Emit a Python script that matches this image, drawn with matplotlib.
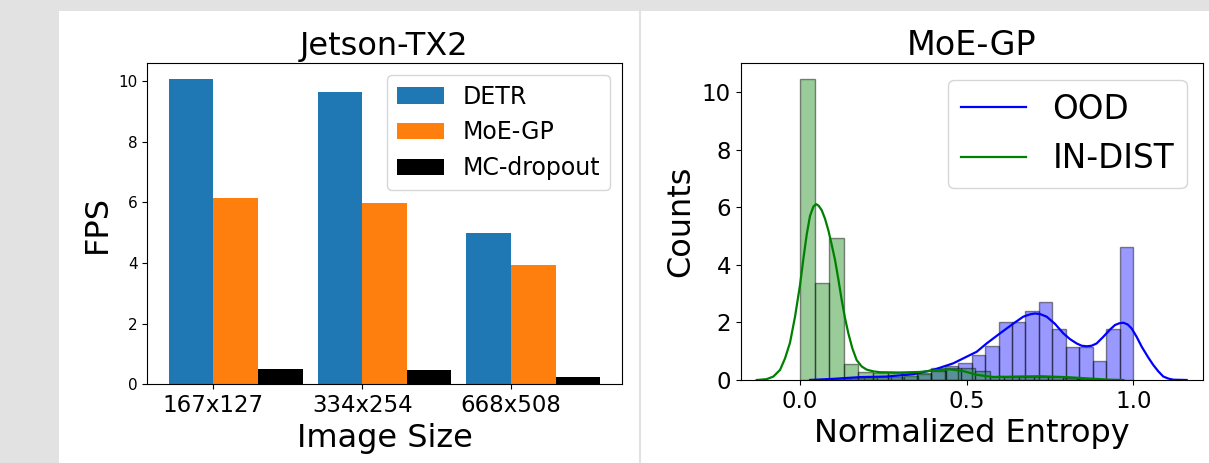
import matplotlib
matplotlib.use('Agg')
import matplotlib.pyplot as plt
import numpy as np
from matplotlib.patches import Rectangle
from matplotlib.lines import Line2D

# left panel: FPS on Jetson-TX2
sizes = ['167x127', '334x254', '668x508']
fps_detr = [10.08, 9.65, 4.98]
fps_moegp = [6.15, 5.97, 3.93]
fps_mcdrop = [0.5, 0.48, 0.24]

# right panel: histograms (bin start, width, counts) + kde curves
ind_start, ind_width = 0.0, 0.0438
ind_counts = [10.45, 3.38, 4.92, 0.56, 0.29, 0.23, 0.23, 0.25, 0.25, 0.3,
              0.42, 0.4, 0.3, 0.15, 0.1, 0.1, 0.12, 0.1, 0.08, 0.05]
ood_start, ood_width = 0.03, 0.0404
ood_counts = [0.02, 0.03, 0.05, 0.07, 0.08, 0.1, 0.12, 0.15, 0.22, 0.42,
              0.5, 0.58, 0.87, 1.18, 2.03, 2.03, 2.41, 2.72, 1.76, 1.13,
              1.13, 0.67, 1.77, 4.63]

ind_kde_x = [-0.13, -0.1, -0.08, -0.06, -0.045, -0.03, -0.015, 0.0, 0.01, 0.02,
             0.03, 0.04, 0.048, 0.056, 0.065, 0.075, 0.085, 0.095, 0.105, 0.115,
             0.125, 0.135, 0.145, 0.157, 0.17, 0.185, 0.2, 0.22, 0.24, 0.3,
             0.36, 0.41, 0.45, 0.49, 0.53, 0.58, 0.65, 0.72, 0.8, 0.87,
             0.93, 0.97]
ind_kde_y = [0.0, 0.03, 0.12, 0.35, 0.75, 1.3, 2.2, 3.3, 4.2, 5.05,
             5.7, 6.02, 6.11, 6.05, 5.9, 5.6, 5.2, 4.7, 4.17, 3.5,
             2.78, 2.15, 1.62, 1.1, 0.69, 0.47, 0.36, 0.3, 0.27, 0.26,
             0.28, 0.34, 0.37, 0.31, 0.18, 0.1, 0.12, 0.13, 0.1, 0.05,
             0.01, 0.0]
ood_kde_x = [0.03, 0.1, 0.18, 0.26, 0.34, 0.4, 0.46, 0.5, 0.53, 0.56,
             0.6, 0.62, 0.645, 0.67, 0.69, 0.705, 0.72, 0.74, 0.765, 0.79,
             0.81, 0.83, 0.845, 0.86, 0.875, 0.89, 0.91, 0.93, 0.945, 0.958,
             0.97, 0.983, 0.995, 1.01, 1.025, 1.045, 1.06, 1.075, 1.09, 1.105,
             1.12, 1.16]
ood_kde_y = [0.0, 0.04, 0.1, 0.12, 0.2, 0.35, 0.58, 0.81, 0.98, 1.27,
             1.62, 1.79, 2.0, 2.2, 2.28, 2.31, 2.29, 2.2, 1.95, 1.62,
             1.42, 1.27, 1.19, 1.17, 1.19, 1.27, 1.5, 1.75, 1.91, 1.97,
             1.99, 1.93, 1.79, 1.5, 1.16, 0.78, 0.52, 0.3, 0.12, 0.05,
             0.01, 0.0]

W, H = 1209, 463
fig = plt.figure(figsize=(W / 100, H / 100), dpi=100, facecolor='#e2e2e2')
fig.patches.append(Rectangle((59 / W, 0), 1 - 59 / W, 1 - 11 / H, transform=fig.transFigure,
                             facecolor='white', edgecolor='none', zorder=-10))
fig.lines.append(Line2D([640 / W, 640 / W], [0, 1 - 11 / H], transform=fig.transFigure,
                        color='#e2e2e2', lw=1.5, zorder=-5))

# ---- left
ax1 = fig.add_axes([147.3 / W, 1 - 384.3 / H, (621.7 - 147.3) / W, (384.3 - 63.3) / H])
x = np.arange(len(sizes))
w = 0.3
ax1.bar(x - w / 2, fps_detr, w, color='tab:blue', label='DETR')
ax1.bar(x + w / 2, fps_moegp, w, color='tab:orange', label='MoE-GP')
ax1.bar(x + 3 * w / 2, fps_mcdrop, w, color='black', label='MC-dropout')
ax1.set_xticks(x)
ax1.set_xticklabels(sizes, fontsize=16.5)
ax1.tick_params(axis='y', labelsize=11)
ax1.set_xlabel('Image Size', fontsize=23)
ax1.set_ylabel('FPS', fontsize=23)
ax1.set_title('Jetson-TX2', fontsize=23)
ax1.legend(fontsize=17, loc='upper right')

# ---- right
ax2 = fig.add_axes([740.7 / W, 1 - 380 / H, (1203.3 - 740.7) / W, (380 - 63.3) / H])
ind_edges = ind_start + ind_width * np.arange(len(ind_counts))
ood_edges = ood_start + ood_width * np.arange(len(ood_counts))
ax2.bar(ood_edges, ood_counts, ood_width, align='edge', facecolor=(0, 0, 1, 0.4),
        edgecolor=(0, 0, 0, 0.45), linewidth=1)
ax2.bar(ind_edges, ind_counts, ind_width, align='edge', facecolor=(0, 0.5, 0, 0.4),
        edgecolor=(0, 0, 0, 0.45), linewidth=1)
ax2.plot(ood_kde_x, ood_kde_y, color='blue', lw=1.6, label='OOD')
ax2.plot(ind_kde_x, ind_kde_y, color='green', lw=1.6, label='IN-DIST')
ax2.set_xlim(-0.178, 1.21)
ax2.set_ylim(0, 11)
ax2.set_xticks([0.0, 0.5, 1.0])
ax2.tick_params(labelsize=16.5)
ax2.set_xlabel('Normalized Entropy', fontsize=23)
ax2.set_ylabel('Counts', fontsize=23)
ax2.set_title('MoE-GP', fontsize=24)
ax2.legend(fontsize=23.5, loc='upper right')

fig.savefig('out.png', dpi=100, facecolor=fig.get_facecolor())
